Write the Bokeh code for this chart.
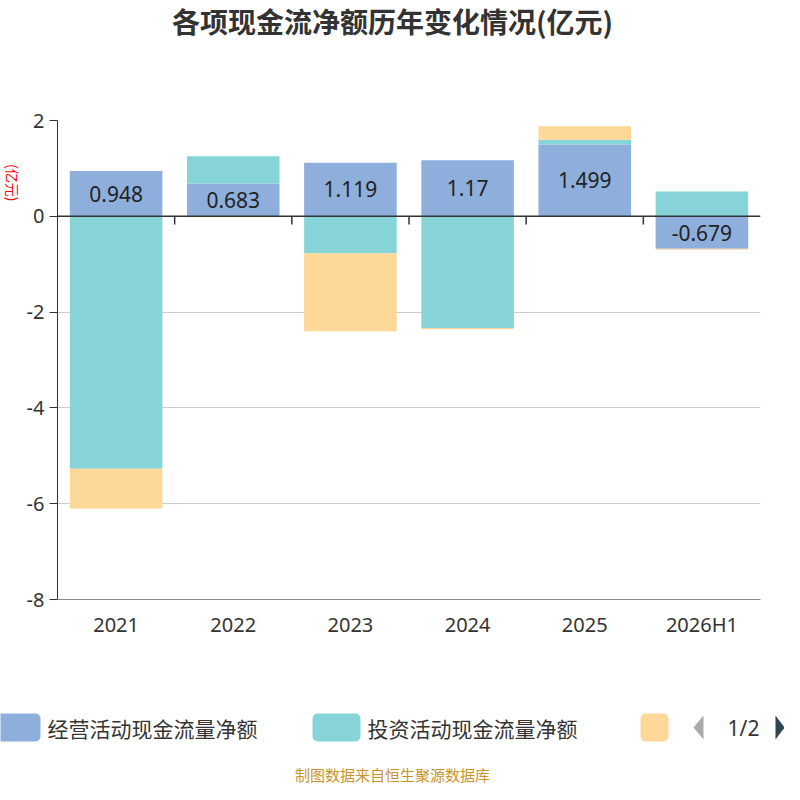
import numpy as np
from bokeh.plotting import figure
from bokeh.layouts import column, row
from bokeh.models import Range1d, FixedTicker
from bokeh.embed import file_html
from bokeh.resources import INLINE
from bokeh.core.properties import value

categories = ["2021", "2022", "2023", "2024", "2025", "2026H1"]
operating = [0.948, 0.683, 1.119, 1.17, 1.499, -0.679]
investing = [-5.27, 0.57, -0.77, -2.33, 0.10, 0.52]
financing = [-0.83, -0.02, -1.63, -0.03, 0.28, -0.02]
series_names = ["经营活动现金流量净额", "投资活动现金流量净额", ""]
colors = ["#8eaedc", "#86d4d8", "#fdd898"]
W = 784
FONT = value("Noto Sans CJK SC")


def blank(w, h):
    f = figure(width=w, height=h, x_range=Range1d(0, w), y_range=Range1d(h, 0),
               toolbar_location=None, output_backend="svg", min_border=0,
               x_axis_location=None, y_axis_location=None)
    f.grid.visible = False
    f.outline_line_color = None
    return f


# title
t = blank(W, 68)
t.text(x=[W / 2], y=[20], text=["各项现金流净额历年变化情况(亿元)"], text_font=FONT,
       text_font_size="28px", text_font_style="bold", text_color="#333333",
       text_align="center", text_baseline="middle")

# y label strip
s = blank(20, 572)
s.text(x=[2], y=[52], text=["(亿元)"], angle=-np.pi / 2, text_font=FONT, text_font_size="14px",
       text_color="red", text_baseline="bottom")

# main
p = figure(width=W - 20, height=572, x_range=Range1d(-0.5, 5.5), y_range=Range1d(-8, 2),
           toolbar_location=None, output_backend="svg",
           min_border_top=52, min_border_bottom=40, min_border_left=37, min_border_right=24)
p.outline_line_color = None
p.xgrid.visible = False
p.ygrid.grid_line_color = "#cccccc"
p.yaxis.ticker = FixedTicker(ticks=[-8, -6, -4, -2, 0, 2])
p.yaxis.major_label_overrides = {-8: "-8", -6: "-6", -4: "-4", -2: "-2", 0: "0", 2: "2"}
p.xaxis.ticker = FixedTicker(ticks=list(range(len(categories))))
p.xaxis.major_label_overrides = {i: c for i, c in enumerate(categories)}
for ax in (p.xaxis, p.yaxis):
    ax.major_label_text_font_size = "20px"
    ax.major_label_text_color = "#333333"
    ax.major_label_text_font = "Noto Sans"
    ax.axis_line_color = "#333333"
    ax.major_tick_line_color = "#333333"
    ax.minor_tick_line_color = None
p.xaxis.major_tick_line_color = None
p.xaxis.axis_line_color = "#888888"
p.yaxis.major_tick_in = 0
p.yaxis.major_tick_out = 8

x = np.arange(len(categories))
pos_base = np.zeros(len(x))
neg_base = np.zeros(len(x))
for vals, c in zip([operating, investing, financing], colors):
    v = np.array(vals)
    bottom = np.where(v >= 0, pos_base, neg_base)
    top = bottom + v
    p.vbar(x=x, bottom=bottom, top=top, width=0.79, fill_color=c, line_color=None)
    pos_base = np.where(v >= 0, top, pos_base)
    neg_base = np.where(v < 0, top, neg_base)

p.line(x=[-0.5, 5.5], y=[0, 0], line_color="#333333", line_width=1.5)
tx = x[:-1] + 0.5
p.segment(x0=tx, y0=[0] * len(tx), x1=tx, y1=[-0.17] * len(tx), line_color="#333333", line_width=1.5)
p.text(x=x, y=np.array(operating) / 2, text=[str(v) for v in operating], text_font=value("Noto Sans"),
       text_font_size="21px", text_color="#222222", text_align="center", text_baseline="middle")

# legend / footer
l = blank(W, 144)
lx = [-8, 312, 630]
l.rect(x=[a + 24 for a in lx], y=[87] * 3, width=[48, 48, 28], height=28, fill_color=colors,
       line_color=None, border_radius=5)
l.text(x=[a + 55 for a in lx], y=[87] * 3, text=series_names, text_font=FONT, text_font_size="21px",
       text_color="#333333", text_baseline="middle")
l.patch(x=[693, 703, 703], y=[87, 75, 99], fill_color="#aaaaaa", line_color=None)
l.patch(x=[775, 784, 775], y=[75, 87, 99], fill_color="#2f4554", line_color=None)
l.text(x=[743], y=[87], text=["1/2"], text_font=value("Noto Sans"), text_font_size="21px",
       text_color="#333333", text_align="center", text_baseline="middle")
l.text(x=[392], y=[134], text=["制图数据来自恒生聚源数据库"], text_font=FONT, text_font_size="15px",
       text_color="#c8942a", text_align="center", text_baseline="middle")

open("out.html", "w").write(file_html(column(t, row(s, p, spacing=0), l, spacing=0), INLINE))
